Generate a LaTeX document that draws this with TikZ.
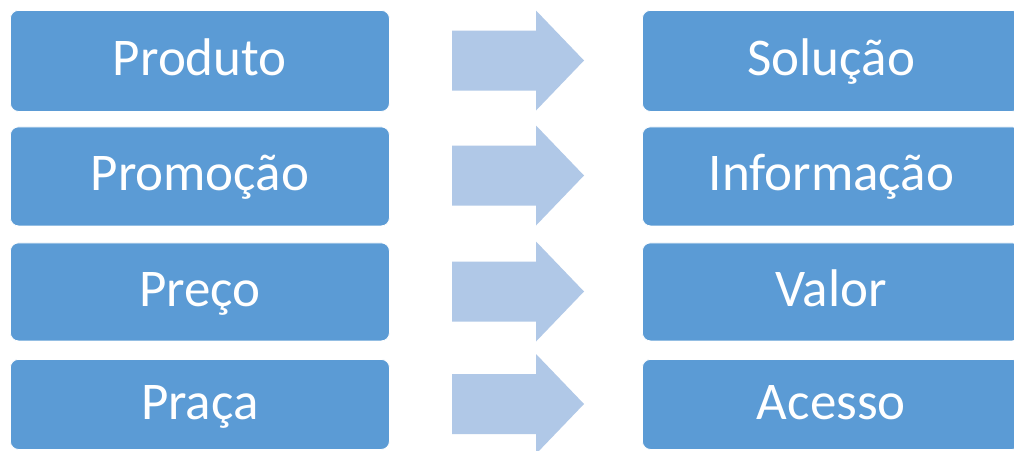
\documentclass[tikz,border=0pt]{standalone}
\usepackage{fontspec}
\setmainfont{Carlito}
\definecolor{boxblue}{HTML}{5B9BD5}
\definecolor{arrowblue}{HTML}{B0C8E7}
\tikzset{
  card/.style={fill=boxblue, draw=white, line width=0.8pt, rounded corners=8pt,
    text=white, font=\fontsize{53}{62}\selectfont, inner sep=0pt,
    text height=40pt, text depth=11pt, anchor=north west},
  flowarrow/.style={fill=arrowblue, draw=none}
}
\begin{document}
\begin{tikzpicture}[x=1pt,y=-1pt]
  \useasboundingbox (0,0) rectangle (1014,450);
  \clip (0,0) rectangle (1014,450);
  \fill[white] (0,0) rectangle (1014,450);
  % left column
  \node[card, minimum width=379pt, minimum height=101pt] (p1) at (10,10) {Produto};
  \node[card, minimum width=379pt, minimum height=99pt] (p2) at (10,126.5) {Promoção};
  \node[card, minimum width=379pt, minimum height=98pt] (p3) at (10,242.5) {Preço};
  \node[card, minimum width=379pt, minimum height=90pt, text height=41pt] (p4) at (10,359) {Praça};
  % right column
  \node[card, minimum width=378pt, minimum height=101pt] (s1) at (642,10) {Solução};
  \node[card, minimum width=378pt, minimum height=99pt] (s2) at (642,126.5) {Informação};
  \node[card, minimum width=378pt, minimum height=98pt] (s3) at (642,242.5) {Valor};
  \node[card, minimum width=378pt, minimum height=90pt, text height=41pt] (s4) at (642,359) {Acesso};
  % block arrows between the columns
  \foreach \c in {60.5,175.5,291.5,404}{
    \fill[flowarrow] (452,\c-30) -- (536,\c-30) -- (536,\c-50) -- (584,\c)
      -- (536,\c+50) -- (536,\c+30) -- (452,\c+30) -- cycle;
  }
\end{tikzpicture}
\end{document}
